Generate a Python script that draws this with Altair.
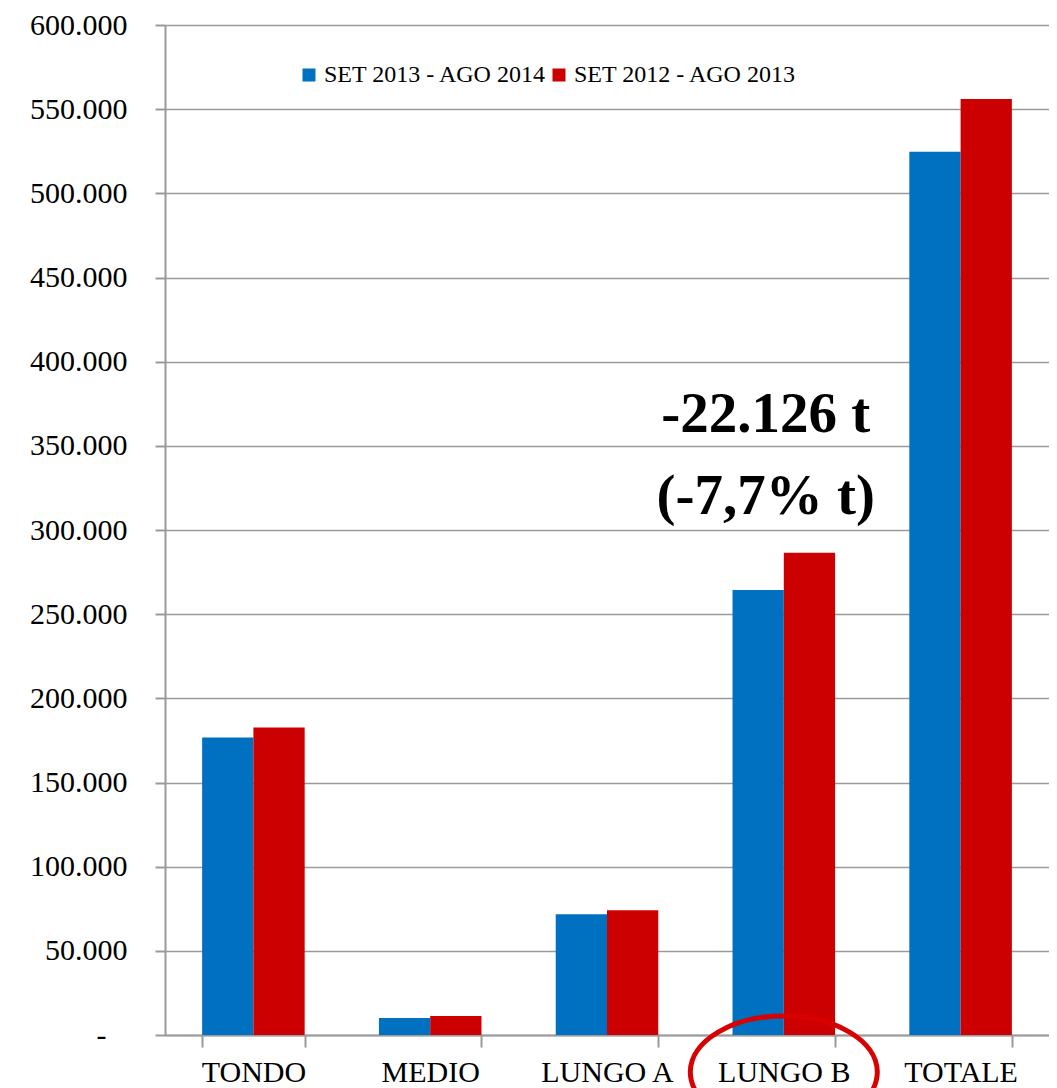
import altair as alt
import pandas as pd

categories = ["TONDO", "MEDIO", "LUNGO A", "LUNGO B", "TOTALE"]
series = ["SET 2013 - AGO 2014", "SET 2012 - AGO 2013"]
values_2014 = [176700, 10100, 71700, 264400, 524700]
values_2013 = [182600, 11300, 74100, 286500, 556100]
colors = ["#0070C0", "#CC0000"]
y_ticks = list(range(0, 600001, 50000))

annot_lines = ["-22.126 t", "(-7,7% t)"]
annot_values = [358500, 309500]
highlight_category = "LUNGO B"

rows = []
for c, a, b in zip(categories, values_2014, values_2013):
    rows.append({"categoria": c, "periodo": series[0], "valore": a})
    rows.append({"categoria": c, "periodo": series[1], "valore": b})
df = pd.DataFrame(rows)

annot_df = pd.DataFrame({
    "categoria": [highlight_category] * len(annot_lines),
    "testo": annot_lines,
    "valore": annot_values,
})
ellipse_df = pd.DataFrame({"categoria": [highlight_category], "valore": [-22000]})

FONT = "Liberation Serif"
GRAY = "#9a9a9a"

x_enc = alt.X(
    "categoria:N",
    sort=categories,
    scale=alt.Scale(paddingInner=0.42, paddingOuter=0.21),
    axis=alt.Axis(
        title=None, labelAngle=0, tickBand="extent", tickSize=12,
        labelPadding=10, labelFontSize=30, labelFont=FONT, labelColor="black",
        domainColor=GRAY, tickColor=GRAY, domainWidth=2, tickWidth=2, grid=False,
    ),
)
y_scale = alt.Scale(domain=[0, 600000], nice=False)

bars = alt.Chart(df).mark_bar().encode(
    x=x_enc,
    xOffset=alt.XOffset("periodo:N", sort=series),
    y=alt.Y(
        "valore:Q",
        scale=y_scale,
        axis=alt.Axis(
            title=None, values=y_ticks, tickSize=10,
            labelPadding={"condition": {"test": "datum.value == 0", "value": 49}, "value": 28},
            labelFontSize=30, labelFont=FONT, labelColor="black",
            labelExpr="datum.value == 0 ? '-' : replace(format(datum.value, ','), ',', '.')",
            grid=True, gridColor=GRAY, gridWidth=1.6,
            domainColor=GRAY, tickColor=GRAY, domainWidth=2, tickWidth=2,
        ),
    ),
    color=alt.Color(
        "periodo:N",
        sort=series,
        scale=alt.Scale(domain=series, range=colors),
        legend=alt.Legend(
            title=None, orient="none", legendX=132, legendY=38,
            direction="horizontal", symbolType="square", symbolSize=169,
            symbolStrokeWidth=0, labelFontSize=24, labelFont=FONT,
            labelColor="black", columnPadding=0, labelOffset=3, padding=0,
            labelLimit=400,
        ),
    ),
)

annot = alt.Chart(annot_df).mark_text(
    font=FONT, fontSize=57, fontWeight="bold", color="black",
    baseline="alphabetic", align="center", dx=-18,
).encode(
    x=alt.X("categoria:N", sort=categories),
    y=alt.Y("valore:Q", scale=y_scale),
    text="testo:N",
)

ellipse = alt.Chart(ellipse_df).mark_point(
    shape="M -1 0 A 1 0.6 0 1 0 1 0 A 1 0.6 0 1 0 -1 0 Z",
    filled=False, stroke="#D80000", strokeWidth=5, size=34969, opacity=1,
).encode(
    x=alt.X("categoria:N", sort=categories),
    y=alt.Y("valore:Q", scale=y_scale),
)

chart = alt.layer(bars, annot, ellipse).properties(
    width=884, height=1010,
    autosize=alt.AutoSizeParams(type="none"),
    padding={"left": 157, "top": 17, "right": 0, "bottom": 53},
).configure_view(stroke=None).configure(background="white")

chart.save("out.html", embed_options={"renderer": "svg", "actions": False})
